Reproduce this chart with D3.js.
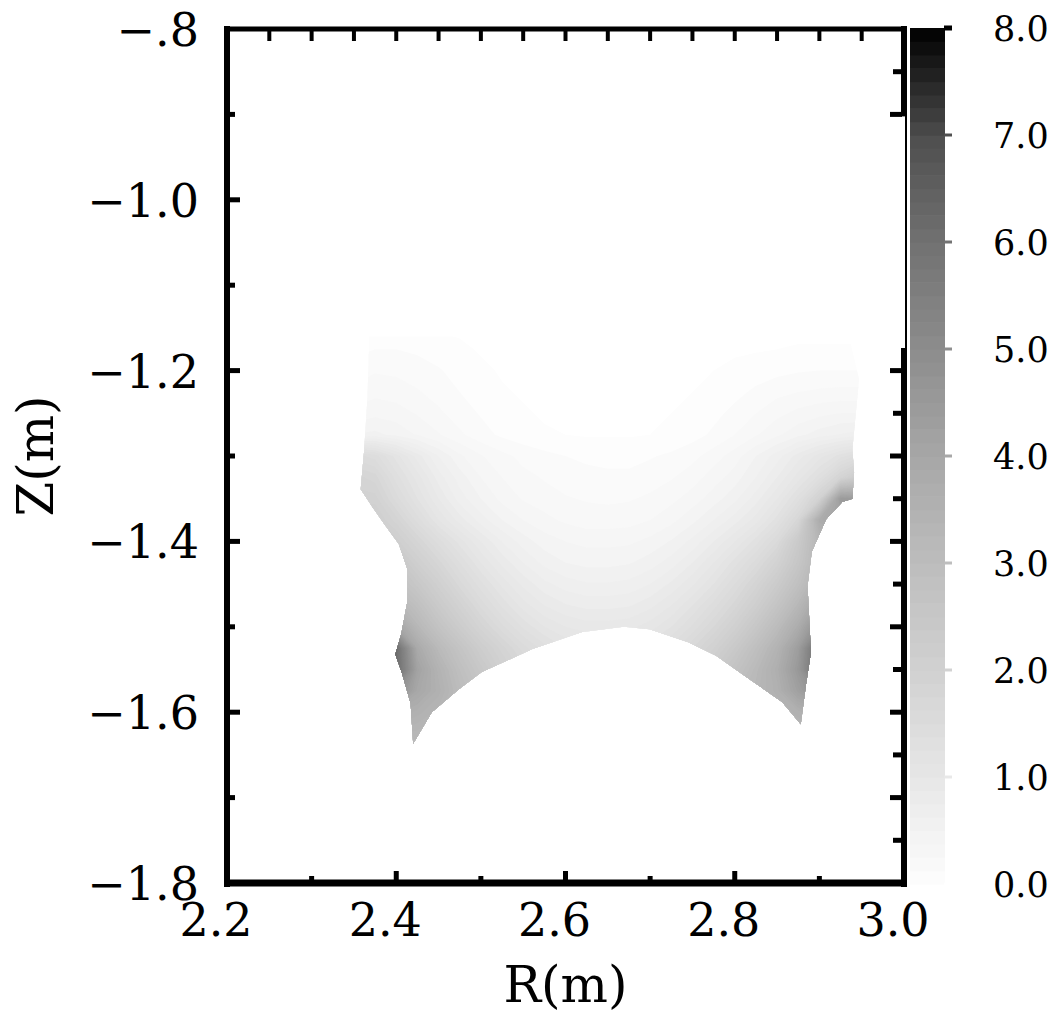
<!DOCTYPE html>
<html><head><meta charset="utf-8">
<script src="https://cdn.jsdelivr.net/npm/d3@7"></script>
<style>body{margin:0;background:#fff} svg{display:block} text{font-family:"DejaVu Serif",serif;fill:#000}</style>
</head><body>
<svg id="chart" width="1062" height="1013"></svg>
<script>
// ---------- data ----------
const zTicks = [-0.8, -1.0, -1.2, -1.4, -1.6, -1.8];
const zTickLabels = ["−.8", "−1.0", "−1.2", "−1.4", "−1.6", "−1.8"];
const rTicks = [2.2, 2.4, 2.6, 2.8, 3.0];
const rTickLabels = ["2.2", "2.4", "2.6", "2.8", "3.0"];
const cbTicks = [0, 1, 2, 3, 4, 5, 6, 7, 8];
const cbTickLabels = ["0.0", "1.0", "2.0", "3.0", "4.0", "5.0", "6.0", "7.0", "8.0"];
const colorStops = [0, 1, 2, 3, 4, 5, 6, 7, 8];
const grayStops = [255, 232, 210, 190, 168, 142, 115, 80, 5];

const rGrid = [2.35, 2.375, 2.40, 2.425, 2.45, 2.475, 2.50, 2.525, 2.55, 2.575, 2.60, 2.625, 2.65,
               2.675, 2.70, 2.725, 2.75, 2.775, 2.80, 2.825, 2.85, 2.875, 2.90, 2.925, 2.95];
const zGrid = [-1.15, -1.175, -1.20, -1.225, -1.25, -1.275, -1.30, -1.325, -1.35, -1.375, -1.40,
               -1.425, -1.45, -1.475, -1.50, -1.525, -1.55, -1.575, -1.60, -1.625, -1.65];
const field = [
 [0.04,0.06,0.06,0.05,0.04,0.03,0.02,0.01,0,0,0,0,0,0,0,0,0,0,0,0,0.01,0.02,0.02,0.02,0.02],
 [0.12,0.15,0.15,0.13,0.1,0.07,0.04,0.02,0.01,0,0,0,0,0,0,0,0.01,0.02,0.03,0.04,0.05,0.06,0.06,0.06,0.06],
 [0.2,0.24,0.23,0.2,0.16,0.11,0.07,0.04,0.02,0.01,0.01,0.01,0.01,0.01,0.01,0.02,0.03,0.05,0.08,0.1,0.12,0.14,0.15,0.15,0.15],
 [0.28,0.32,0.3,0.26,0.21,0.15,0.1,0.06,0.04,0.03,0.02,0.02,0.02,0.02,0.02,0.03,0.05,0.08,0.12,0.17,0.22,0.25,0.27,0.28,0.28],
 [0.38,0.42,0.4,0.34,0.27,0.2,0.14,0.09,0.06,0.04,0.03,0.03,0.03,0.03,0.04,0.05,0.08,0.12,0.18,0.25,0.32,0.38,0.42,0.45,0.45],
 [0.55,0.58,0.52,0.44,0.36,0.27,0.19,0.13,0.09,0.06,0.05,0.04,0.04,0.04,0.05,0.07,0.11,0.17,0.25,0.34,0.43,0.52,0.6,0.66,0.7],
 [1.6,1.5,1.2,0.9,0.65,0.47,0.36,0.28,0.22,0.18,0.15,0.13,0.12,0.12,0.14,0.17,0.22,0.3,0.4,0.55,0.7,0.9,1.1,1.3,1.5],
 [1.9,1.8,1.4,1.1,0.8,0.6,0.45,0.35,0.28,0.24,0.2,0.18,0.17,0.17,0.2,0.24,0.3,0.4,0.5,0.65,0.85,1.1,1.4,1.9,2.4],
 [2.0,2.0,1.6,1.25,0.95,0.7,0.55,0.42,0.34,0.3,0.26,0.24,0.23,0.24,0.27,0.32,0.4,0.5,0.62,0.8,1.05,1.4,2.0,4.5,4.5],
 [2.2,2.2,1.9,1.5,1.15,0.9,0.7,0.55,0.45,0.38,0.33,0.3,0.3,0.31,0.35,0.42,0.52,0.65,0.8,1.0,1.3,1.8,3.8,4.2,4.2],
 [2.3,2.3,2.2,1.85,1.5,1.2,0.95,0.75,0.6,0.5,0.45,0.42,0.42,0.43,0.48,0.56,0.68,0.85,1.05,1.3,1.65,2.4,3.4,3.4,3.4],
 [2.6,2.6,2.6,2.15,1.8,1.45,1.15,0.92,0.75,0.62,0.55,0.52,0.52,0.54,0.6,0.7,0.85,1.05,1.3,1.6,2.0,2.6,3.4,3.4,3.4],
 [2.9,2.9,2.9,2.5,2.1,1.7,1.38,1.12,0.92,0.78,0.7,0.66,0.66,0.68,0.75,0.87,1.03,1.25,1.55,1.9,2.35,2.9,3.6,3.6,3.6],
 [3.4,3.4,3.4,2.9,2.4,2.0,1.62,1.33,1.1,0.95,0.86,0.82,0.82,0.84,0.92,1.05,1.25,1.5,1.8,2.2,2.7,3.3,4.2,4.2,4.2],
 [4.5,4.5,4.2,3.3,2.75,2.3,1.9,1.58,1.33,1.15,1.05,1.0,1.0,1.02,1.1,1.25,1.47,1.75,2.1,2.55,3.1,3.8,5.0,5.0,5.0],
 [6.5,6.5,6.2,3.9,3.2,2.7,2.25,1.9,1.6,1.4,1.25,1.2,1.2,1.22,1.32,1.5,1.75,2.05,2.45,2.95,3.5,4.4,6.3,6.3,6.3],
 [6.5,6.5,6.2,4.2,3.5,2.95,2.5,2.1,1.8,1.6,1.45,1.4,1.4,1.42,1.55,1.75,2.0,2.35,2.75,3.2,3.7,4.6,6.3,6.3,6.3],
 [5.0,5.0,5.0,4.0,3.6,3.1,2.7,2.3,2.0,1.8,1.65,1.6,1.6,1.62,1.75,1.95,2.2,2.6,3.0,3.3,3.6,4.3,5.0,5.0,5.0],
 [3.8,3.8,3.8,3.6,3.4,3.1,2.8,2.5,2.2,2.0,1.85,1.8,1.8,1.82,1.95,2.15,2.4,2.8,3.1,3.3,3.4,3.6,3.8,3.8,3.8],
 [3.4,3.4,3.4,3.3,3.2,3.0,2.8,2.5,2.3,2.1,2.0,1.9,1.9,1.92,2.05,2.25,2.5,2.8,3.0,3.2,3.3,3.4,3.4,3.4,3.4],
 [3.1,3.1,3.1,3.1,3.0,2.9,2.7,2.5,2.3,2.1,2.0,1.95,1.95,1.97,2.1,2.3,2.5,2.7,2.9,3.0,3.1,3.1,3.1,3.1,3.1]
];
// outline of the shaded region (R, Z)
const boundaryR = [2.368,2.366,2.362,2.358,2.372,2.386,2.403,2.413,2.413,2.406,2.399,2.407,2.417,2.420,
  2.442,2.474,2.501,2.561,2.620,2.669,2.699,2.745,2.778,2.817,2.856,2.878,
  2.884,2.890,2.888,2.886,2.891,2.908,2.927,2.939,2.941,2.939,2.947,2.935];
const boundaryZ = [-1.160,-1.230,-1.294,-1.339,-1.360,-1.380,-1.403,-1.432,-1.471,-1.508,-1.532,-1.555,-1.590,-1.637,
  -1.600,-1.573,-1.553,-1.526,-1.506,-1.500,-1.503,-1.518,-1.534,-1.561,-1.588,-1.614,
  -1.569,-1.530,-1.491,-1.452,-1.412,-1.374,-1.354,-1.350,-1.319,-1.292,-1.210,-1.160];

// ---------- drawing ----------
const svg = d3.select("#chart");
const x = d3.scaleLinear().domain([2.2, 3.0]).range([227, 904]);
const y = d3.scaleLinear().domain([-0.8, -1.8]).range([29, 883]);
const grayScale = d3.scaleLinear().domain(colorStops).range(grayStops).clamp(true);
const colorOf = v => { const g = Math.round(grayScale(v)); return d3.rgb(g, g, g).toString(); };

const nx = rGrid.length, ny = zGrid.length;
const values = field.flat();
const gxR = d3.scaleLinear().domain([0.5, nx - 0.5]).range([rGrid[0], rGrid[nx - 1]]);
const gyZ = d3.scaleLinear().domain([0.5, ny - 0.5]).range([zGrid[0], zGrid[ny - 1]]);
const proj = d3.geoTransform({ point(px, py) { this.stream.point(x(gxR(px)), y(gyZ(py))); } });
const path = d3.geoPath(proj);
const thresholds = d3.range(0.05, 8, 0.1);
const contours = d3.contours().size([nx, ny]).thresholds(thresholds)(values);

const defs = svg.append("defs");
defs.append("clipPath").attr("id", "region").append("path")
  .attr("d", d3.line()(boundaryR.map((r, i) => [x(r), y(boundaryZ[i])])) + "Z");

svg.append("g").attr("clip-path", "url(#region)")
  .selectAll("path").data(contours).join("path")
  .attr("d", path).attr("fill", d => colorOf(d.value + 0.05));

// colorbar
const cb = d3.scaleLinear().domain([0, 8]).range([884, 28]);
const nb = 64;
svg.append("g").selectAll("rect").data(d3.range(nb)).join("rect")
  .attr("x", 910).attr("width", 35)
  .attr("y", i => cb((i + 1) * 8 / nb))
  .attr("height", i => cb(i * 8 / nb) - cb((i + 1) * 8 / nb) + 0.6)
  .attr("fill", i => colorOf((i + 1) * 8 / nb));
svg.append("g").selectAll("line").data(cbTicks).join("line")
  .attr("x1", 944).attr("x2", 952).attr("y1", d => cb(d)).attr("y2", d => cb(d))
  .attr("stroke", d => d === 8 ? "#000" : colorOf(d)).attr("stroke-width", d => d === 8 ? 5 : 3);
svg.append("g").selectAll("text").data(cbTicks).join("text")
  .attr("x", 993).attr("y", d => cb(d) + 13)
  .attr("font-size", 35).text((d, i) => cbTickLabels[i]);

// frame
const frame = svg.append("g").attr("stroke", "#000").attr("fill", "none");
frame.append("line").attr("x1", 227).attr("x2", 227).attr("y1", 26).attr("y2", 887).attr("stroke-width", 6);
frame.append("line").attr("x1", 224).attr("x2", 907).attr("y1", 883).attr("y2", 883).attr("stroke-width", 7);
frame.append("line").attr("x1", 224).attr("x2", 907).attr("y1", 29).attr("y2", 29).attr("stroke-width", 5);
frame.append("line").attr("x1", 904).attr("x2", 904).attr("y1", 26).attr("y2", y(-0.9) + 2).attr("stroke-width", 6);
frame.append("line").attr("x1", 906).attr("x2", 906).attr("y1", y(-0.9)).attr("y2", 350).attr("stroke-width", 2);
frame.append("line").attr("x1", 904).attr("x2", 904).attr("y1", 348).attr("y2", 887).attr("stroke-width", 6);

const isMajor = v => Math.abs(Math.round(v * 10)) % 2 === 0;
const near = (a, b) => Math.abs(a - b) < 1e-6;
// left ticks every 0.1
const zT10 = y.ticks(10).filter(v => !near(v, -0.8) && !near(v, -1.8));
frame.append("g").selectAll("line").data(zT10).join("line")
  .attr("x1", 229).attr("x2", d => 229 + (isMajor(d) ? 11 : 6))
  .attr("y1", d => y(d)).attr("y2", d => y(d)).attr("stroke-width", 5);
// right ticks every 0.05
const zT20 = y.ticks(20).filter(v => !near(v, -0.8) && !near(v, -1.8) && !(v < -0.91 && v > -1.19));
frame.append("g").selectAll("line").data(zT20).join("line")
  .attr("x1", 902).attr("x2", d => 902 - (Math.abs(Math.round(d * 20)) % 2 === 0 ? 12 : 9))
  .attr("y1", d => y(d)).attr("y2", d => y(d)).attr("stroke-width", 5);
// bottom ticks every 0.1
const rT10 = x.ticks(10).filter(v => !near(v, 2.2) && !near(v, 3.0));
frame.append("g").selectAll("line").data(rT10).join("line")
  .attr("y1", 881).attr("y2", d => 881 - (isMajor(d) ? 10 : 5))
  .attr("x1", d => x(d)).attr("x2", d => x(d)).attr("stroke-width", 5);
// top ticks every 0.05
const rT20 = x.ticks(20).filter(v => !near(v, 2.2) && !near(v, 3.0));
frame.append("g").selectAll("line").data(rT20).join("line")
  .attr("y1", 30).attr("y2", 41)
  .attr("x1", d => x(d)).attr("x2", d => x(d)).attr("stroke-width", 4);

// tick labels
svg.append("g").selectAll("text").data(zTicks).join("text")
  .attr("x", 199).attr("y", d => y(d) + 17).attr("text-anchor", "end")
  .attr("font-size", 46).text((d, i) => zTickLabels[i]);
svg.append("g").selectAll("text").data(rTicks).join("text")
  .attr("x", d => x(d) - 11).attr("y", 936).attr("text-anchor", "middle")
  .attr("font-size", 46).text((d, i) => rTickLabels[i]);

// axis titles
svg.append("text").attr("x", (x(2.2) + x(3.0)) / 2).attr("y", 1002).attr("text-anchor", "middle")
  .attr("font-size", 50).text("R(m)");
svg.append("text").attr("transform", `translate(53,${(y(-0.8) + y(-1.8)) / 2}) rotate(-90)`)
  .attr("text-anchor", "middle").attr("font-size", 50).text("Z(m)");
</script>
</body></html>
